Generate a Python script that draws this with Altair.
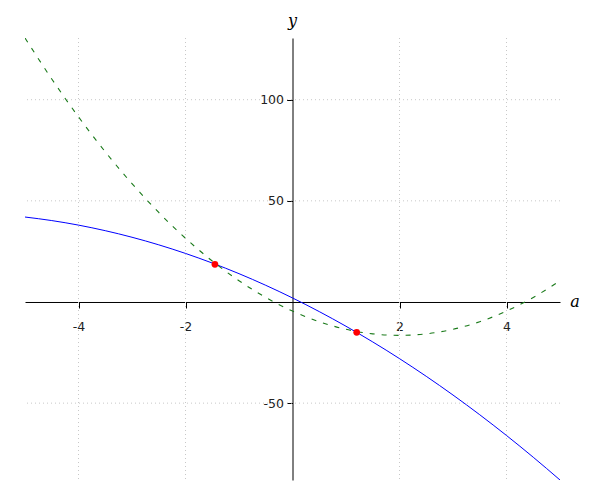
import altair as alt
import pandas as pd

a_vals = [-5, -4.5, -4, -3.5, -3, -2.5, -2, -1.5, -1, -0.5, 0,
          0.5, 1, 1.5, 2, 2.5, 3, 3.5, 4, 4.5, 5]
blue_vals = [42, 40.25, 38, 35.25, 32, 28.25, 24, 19.25, 14, 8.25, 2,
             -4.75, -12, -19.75, -28, -36.75, -46, -55.75, -66, -76.75, -88]
green_vals = [130.5, 110.25, 91.5, 74.25, 58.5, 44.25, 31.5, 20.25, 10.5, 2.25, -4.5,
              -9.75, -13.5, -15.75, -16.5, -15.75, -13.5, -9.75, -4.5, 2.25, 10.5]
pts_a = [-1.45, 1.2]
pts_y = [18.6, -15.0]
x_ticks = [-4, -2, 2, 4]
y_ticks = [100, 50, -50]

X_DOM = [-5, 5]
Y_DOM = [-88, 130.5]
W, H = 535, 442

blue = pd.DataFrame({"a": a_vals, "y": blue_vals})
green = pd.DataFrame({"a": a_vals, "y": green_vals})
pts = pd.DataFrame({"a": pts_a, "y": pts_y})
gx = pd.DataFrame({"v": x_ticks})
gy = pd.DataFrame({"v": y_ticks})

xs = alt.Scale(domain=X_DOM, nice=False, zero=False)
ys = alt.Scale(domain=Y_DOM, nice=False, zero=False)

x_off = -(0 - Y_DOM[0]) / (Y_DOM[1] - Y_DOM[0]) * H
y_off = -(0 - X_DOM[0]) / (X_DOM[1] - X_DOM[0]) * W

x_axis = alt.Axis(values=x_ticks, offset=x_off, grid=False, title=None,
                  domainColor="black", tickColor="black", tickSize=6,
                  labelFontSize=12.5, labelColor="#222", labelPadding=13,
                  labelFont="DejaVu Sans", labelExpr="'' + datum.value")
y_axis = alt.Axis(values=y_ticks, offset=y_off, grid=False, title=None,
                  domainColor="black", tickColor="black", tickSize=6,
                  labelFontSize=12.5, labelColor="#222", labelPadding=3,
                  labelFont="DejaVu Sans", labelExpr="'' + datum.value")

grid_x = alt.Chart(gx).mark_rule(color="#c8c8c8", strokeDash=[1, 3], strokeWidth=1).encode(
    x=alt.X("v:Q", scale=xs, axis=x_axis))
grid_y = alt.Chart(gy).mark_rule(color="#c8c8c8", strokeDash=[1, 3], strokeWidth=1).encode(
    y=alt.Y("v:Q", scale=ys, axis=y_axis))

line_b = alt.Chart(blue).mark_line(color="#0000ff", strokeWidth=1, interpolate="monotone", clip=True).encode(
    x=alt.X("a:Q", scale=xs, axis=x_axis), y=alt.Y("y:Q", scale=ys, axis=y_axis))
line_g = alt.Chart(green).mark_line(color="#1a7a1a", strokeWidth=1.1, strokeDash=[5, 7],
                                    interpolate="monotone", clip=True).encode(
    x=alt.X("a:Q", scale=xs, axis=x_axis), y=alt.Y("y:Q", scale=ys, axis=y_axis))
dots = alt.Chart(pts).mark_circle(color="red", size=45, opacity=1).encode(
    x=alt.X("a:Q", scale=xs, axis=x_axis), y=alt.Y("y:Q", scale=ys, axis=y_axis))

lab = pd.DataFrame({"t": ["y"]})
t_y = alt.Chart(lab).mark_text(font="DejaVu Serif", fontStyle="italic", fontSize=16,
                               color="black", align="center", baseline="middle").encode(
    x=alt.value(W / 2), y=alt.value(-17), text=alt.value("y"))
t_a = alt.Chart(lab).mark_text(font="DejaVu Serif", fontStyle="italic", fontSize=16,
                               color="black", align="center", baseline="middle").encode(
    x=alt.value(W + 15), y=alt.value(H + x_off), text=alt.value("a"))

chart = alt.layer(grid_x, grid_y, line_b, line_g, dots, t_y, t_a).properties(
    width=W, height=H,
    autosize=alt.AutoSizeParams(type="none"),
    padding={"left": 17, "top": 30, "right": 32, "bottom": 12},
).configure_view(stroke=None)

chart.save("out.html", embed_options={"renderer": "svg", "actions": False})
